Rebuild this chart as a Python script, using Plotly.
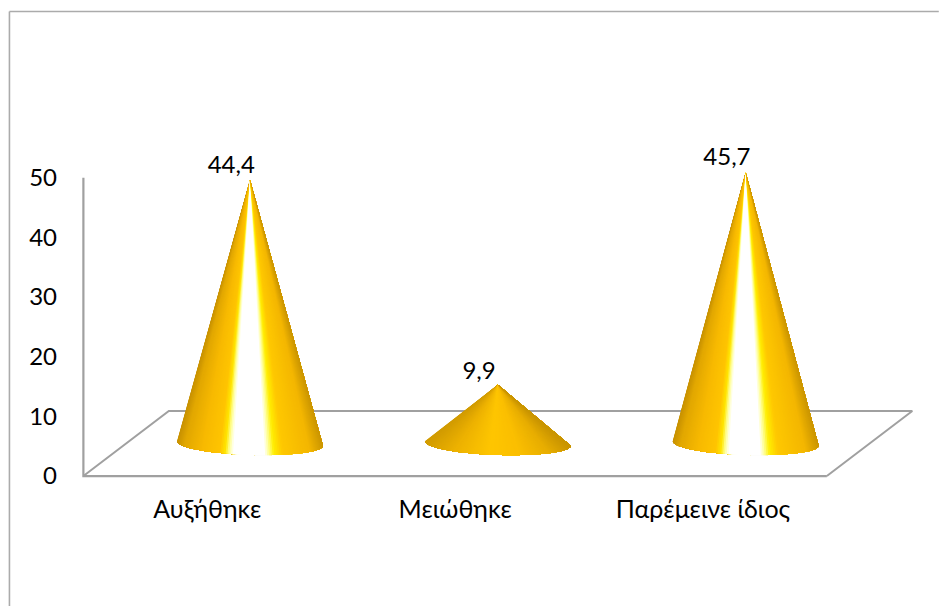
import numpy as np
import plotly.graph_objects as go

# Survey results
categories = ["Αυξήθηκε", "Μειώθηκε", "Παρέμεινε ίδιος"]
values = [44.4, 9.9, 45.7]
y_ticks = [0, 10, 20, 30, 40, 50]

W, H = 939, 606
LEFT, FRONT_RIGHT, FRONT_TOP, BOTTOM = 83, 827, 178, 476
PX_X = (FRONT_RIGHT - LEFT) / 3.0    # pixels per category
PX_Y = (BOTTOM - FRONT_TOP) / 50.0   # pixels per value unit

# The plotting area extends past the front axes so the floor, apexes,
# labels and axis lines all stay inside it
X_RANGE = [-0.55, 2.9]
Y_RANGE = [-1, 60]
PLOT_L = LEFT + (X_RANGE[0] + 0.5) * PX_X
PLOT_R = LEFT + (X_RANGE[1] + 0.5) * PX_X
PLOT_T = BOTTOM - Y_RANGE[1] * PX_Y
PLOT_B = BOTTOM - Y_RANGE[0] * PX_Y

# Oblique projection of the floor depth, in data units
DEPTH_X = 85.5 / PX_X
DEPTH_Y = 65 / PX_Y
HEIGHT_SCALE = 0.995                 # vertical foreshortening of the cones
BASE_RX = 73 / PX_X
BASE_RY = 11.5 / PX_Y
BASE_TILT = 2.2 / PX_Y

GRID = "#A0A0A0"
FRAME = "#ABABAB"

# Shading across the visible cone surface, from left silhouette to right
TALL_SHADE = [
    (-1.00, "#C89200"), (-0.90, "#E2A800"), (-0.65, "#F8BA00"), (-0.42, "#FFC400"),
    (-0.34, "#FFE600"), (-0.29, "#FFFF90"), (-0.23, "#FFFFFF"), (0.20, "#FFFFFF"),
    (0.26, "#FFFF90"), (0.33, "#FFEE00"), (0.45, "#FFC800"), (0.82, "#F4B700"),
    (1.00, "#CC9700"),
]
FLAT_SHADE = [
    (-1.00, "#D29C00"), (-0.60, "#EDB200"), (-0.10, "#FFC600"),
    (0.30, "#FBBF00"), (0.70, "#E8AE00"), (1.00, "#C99500"),
]


def shade(stops, t):
    pos = [s[0] for s in stops]
    rgb = [[int(s[1][i:i + 2], 16) for i in (1, 3, 5)] for s in stops]
    return "rgb(%d,%d,%d)" % tuple(np.interp(t, pos, [c[k] for c in rgb]) for k in range(3))


def line_trace(xs, ys, width=2.2):
    return go.Scatter(x=xs, y=ys, mode="lines", line=dict(color=GRID, width=width),
                      hoverinfo="skip", showlegend=False)


def paper_x(px):
    return (px - PLOT_L) / (PLOT_R - PLOT_L)


def paper_y(px):
    return (PLOT_B - px) / (PLOT_B - PLOT_T)


fig = go.Figure()

# Floor of the 3D plot and the two front axis lines
fig.add_trace(line_trace(
    [-0.5, -0.5 + DEPTH_X, 2.5 + DEPTH_X, 2.5], [0, DEPTH_Y, DEPTH_Y, 0], width=2))
fig.add_trace(line_trace([-0.5, -0.5, 2.5], [50, 0, 0]))

# Each cone is painted as a stack of fans from the apex to the base rim;
# every fan reaches the right silhouette, so neighbours leave no seams
edges = -np.cos(np.linspace(0, np.pi, 121))
for i, v in enumerate(values):
    cx = i + DEPTH_X / 2
    cy = DEPTH_Y / 2
    apex_y = cy + v * HEIGHT_SCALE
    stops = FLAT_SHADE if v < 20 else TALL_SHADE
    rim_x = cx + BASE_RX * edges
    rim_y = cy - BASE_RY * np.sqrt(1 - edges ** 2) - BASE_TILT * edges
    for j in range(len(edges) - 1):
        col = shade(stops, (edges[j] + edges[j + 1]) / 2)
        fig.add_trace(go.Scatter(
            x=np.r_[cx, rim_x[j:], cx],
            y=np.r_[apex_y, rim_y[j:], apex_y],
            mode="none", fill="toself", fillcolor=col,
            hoverinfo="skip", showlegend=False,
        ))

# Value labels above the apexes
fig.add_trace(go.Scatter(
    x=[i + 24 / PX_X for i in range(len(values))],
    y=[v + 7.4 for v in values],
    text=[f"{v:.1f}".replace(".", ",") for v in values],
    mode="text", textposition="middle center",
    textfont=dict(size=24, color="#000000"),
    hoverinfo="skip", showlegend=False,
))

fig.update_layout(
    width=W, height=H, autosize=False,
    margin=dict(l=PLOT_L, r=W - PLOT_R, t=PLOT_T, b=H - PLOT_B, pad=0),
    paper_bgcolor="white", plot_bgcolor="white",
    font=dict(family="Lato, Open Sans, sans-serif", size=24, color="#000000"),
    xaxis=dict(
        range=X_RANGE, tickmode="array", tickvals=[0, 1, 2], ticktext=categories,
        tickfont=dict(size=25),
        showgrid=False, zeroline=False, showline=False,
        ticks="", ticklabelstandoff=10,
    ),
    yaxis=dict(
        range=Y_RANGE, tickmode="array", tickvals=y_ticks,
        showgrid=False, zeroline=False, showline=False,
        ticks="", ticklabelstandoff=13,
    ),
    shapes=[
        # Chart frame: left and top edges
        dict(type="line", xref="paper", yref="paper", layer="below",
             x0=paper_x(9), x1=paper_x(9), y0=paper_y(12), y1=paper_y(H),
             line=dict(color=FRAME, width=1.6)),
        dict(type="line", xref="paper", yref="paper", layer="below",
             x0=paper_x(9), x1=paper_x(W), y0=paper_y(12), y1=paper_y(12),
             line=dict(color=FRAME, width=1.6)),
    ],
)

fig.write_html("out.html", config=dict(displayModeBar=False))
